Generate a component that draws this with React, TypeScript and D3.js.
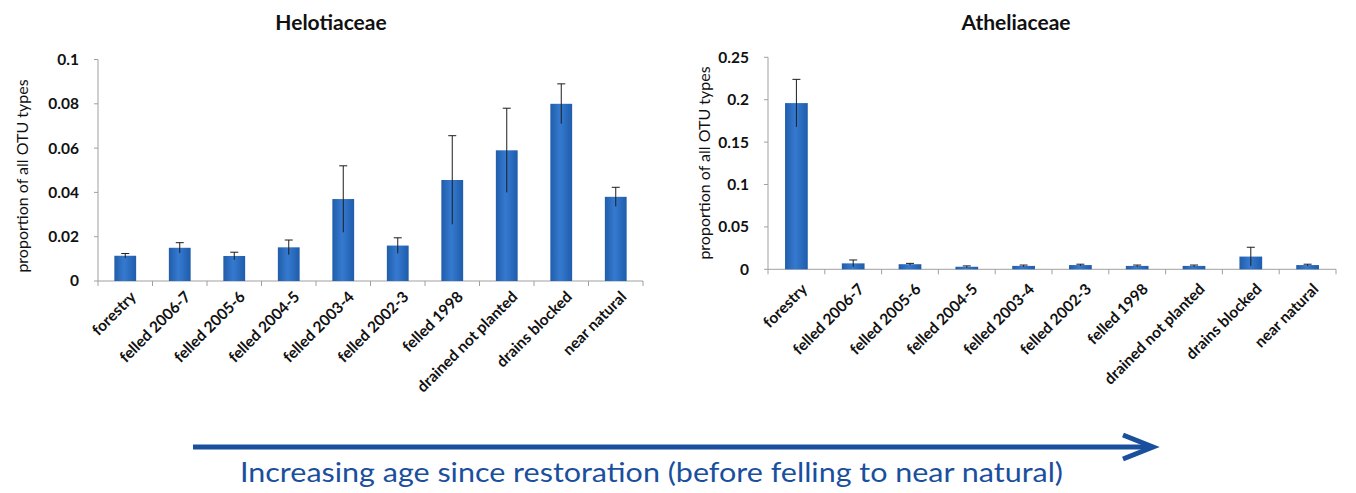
import * as d3 from 'd3';
import React from 'react';

// categories shared by both panels
const categories = [
  'forestry',
  'felled 2006-7',
  'felled 2005-6',
  'felled 2004-5',
  'felled 2003-4',
  'felled 2002-3',
  'felled 1998',
  'drained not planted',
  'drains blocked',
  'near natural',
];

// Helotiaceae
const heloMeans = [0.0114, 0.015, 0.0113, 0.0152, 0.037, 0.016, 0.0456, 0.059, 0.08, 0.038];
const heloErrors = [0.001, 0.0023, 0.0017, 0.0033, 0.015, 0.0035, 0.02, 0.019, 0.009, 0.0043];
const heloTicks = [0, 0.02, 0.04, 0.06, 0.08, 0.1];

// Atheliaceae
const athMeans = [0.196, 0.007, 0.006, 0.003, 0.004, 0.005, 0.004, 0.004, 0.015, 0.005];
const athErrors = [0.028, 0.004, 0.001, 0.001, 0.001, 0.001, 0.001, 0.001, 0.011, 0.001];
const athTicks = [0, 0.05, 0.1, 0.15, 0.2, 0.25];

const W = 1356;
const H = 493;
const FONT = 'Lato, "Open Sans", sans-serif';
const BLUE = '#1a4f9e';

interface PanelProps {
  id: string;
  title: string;
  means: number[];
  errors: number[];
  ticks: number[];
  x0: number;
  x1: number;
  yTop: number;
  yBottom: number;
  titleX: number;
  yTitleX: number;
  yTitleY: number;
  labelDy: number;
}

function fmt(v: number) {
  return v === 0 ? '0' : String(+v.toFixed(2));
}

function Panel(p: PanelProps) {
  const x = d3.scaleBand<string>().domain(categories).range([p.x0, p.x1]).paddingInner(0.6).paddingOuter(0.3);
  const y = d3
    .scaleLinear()
    .domain([0, p.ticks[p.ticks.length - 1]])
    .range([p.yBottom, p.yTop]);
  const step = x.step();
  const bw = x.bandwidth();
  const y0 = y(0);

  return (
    <g>
      <text x={p.titleX} y={30} textAnchor="middle" fontSize={21} fontWeight="bold" fill="#111">
        {p.title}
      </text>
      <text
        transform={`translate(${p.yTitleX},${p.yTitleY}) rotate(-90)`}
        textAnchor="middle"
        fontSize={16}
        fill="#111"
      >
        proportion of all OTU types
      </text>
      {/* y axis */}
      <line x1={p.x0} x2={p.x0} y1={y0} y2={p.yTop} stroke="#a0a0a0" />
      {p.ticks.map((t) => (
        <g key={t}>
          <line x1={p.x0 - 4} x2={p.x0} y1={y(t)} y2={y(t)} stroke="#a0a0a0" />
          <text x={p.x0 - 19} y={y(t)} dy="0.35em" textAnchor="end" fontSize={15.5} fontWeight="bold" fill="#111">
            {fmt(t)}
          </text>
        </g>
      ))}
      {/* x axis */}
      <line x1={p.x0} x2={p.x1} y1={y0} y2={y0} stroke="#a0a0a0" />
      {d3.range(categories.length + 1).map((i) => (
        <line key={i} x1={p.x0 + i * step} x2={p.x0 + i * step} y1={y0} y2={y0 + 5} stroke="#a0a0a0" />
      ))}
      {/* bars */}
      {categories.map((c, i) => (
        <rect key={c} x={x(c)} y={y(p.means[i])} width={bw} height={y0 - y(p.means[i])} fill={`url(#${p.id}-grad)`} />
      ))}
      {/* error bars */}
      {categories.map((c, i) => {
        const cx = (x(c) as number) + bw / 2;
        const hi = y(p.means[i] + p.errors[i]);
        const lo = y(Math.max(0, p.means[i] - p.errors[i]));
        return (
          <g key={c} stroke="#1c1c1c" strokeWidth={1}>
            <line x1={cx} x2={cx} y1={hi} y2={lo} />
            <line x1={cx - 4} x2={cx + 4} y1={hi} y2={hi} />
          </g>
        );
      })}
      {/* category labels */}
      {categories.map((c) => {
        const cx = (x(c) as number) + bw / 2;
        return (
          <text
            key={c}
            transform={`translate(${cx + 8},${y0 + p.labelDy}) rotate(-45)`}
            textAnchor="end"
            dy="0.35em"
            fontSize={15.5}
            fontWeight="bold"
            fill="#111"
          >
            {c}
          </text>
        );
      })}
    </g>
  );
}

export default function App() {
  const arrowScale = d3.scaleLinear().domain([0, 1]).range([193, 1153]);
  return (
    <svg
      width={W}
      height={H}
      style={{ position: 'absolute', left: 0, top: 0, background: '#fff' }}
      fontFamily={FONT}
    >
      <defs>
        {['helo', 'ath'].map((id) => (
          <linearGradient key={id} id={`${id}-grad`} x1="0" x2="1" y1="0" y2="0">
            <stop offset="0" stopColor="#215daa" />
            <stop offset="0.45" stopColor="#357ad0" />
            <stop offset="1" stopColor="#1f5cab" />
          </linearGradient>
        ))}
      </defs>
      <rect width={W} height={H} fill="#fff" />
      <Panel
        id="helo"
        title="Helotiaceae"
        means={heloMeans}
        errors={heloErrors}
        ticks={heloTicks}
        x0={98}
        x1={643}
        yTop={59.5}
        yBottom={281}
        titleX={331}
        yTitleX={28}
        yTitleY={176}
        labelDy={13}
      />
      <Panel
        id="ath"
        title="Atheliaceae"
        means={athMeans}
        errors={athErrors}
        ticks={athTicks}
        x0={768}
        x1={1336}
        yTop={57.3}
        yBottom={269.3}
        titleX={1016}
        yTitleX={710}
        yTitleY={163}
        labelDy={17}
      />
      {/* restoration arrow */}
      <line x1={arrowScale(0)} x2={arrowScale(1) - 4} y1={447} y2={447} stroke={BLUE} strokeWidth={5} />
      <path
        d={`M${arrowScale(1) - 30},${435} L${arrowScale(1)},${447} L${arrowScale(1) - 30},${459}`}
        fill="none"
        stroke={BLUE}
        strokeWidth={5}
      />
      <text x={651.5} y={482} textAnchor="middle" fontSize={27} fill={BLUE} textLength={823} lengthAdjust="spacingAndGlyphs">
        Increasing age since restoration (before felling to near natural)
      </text>
    </svg>
  );
}
